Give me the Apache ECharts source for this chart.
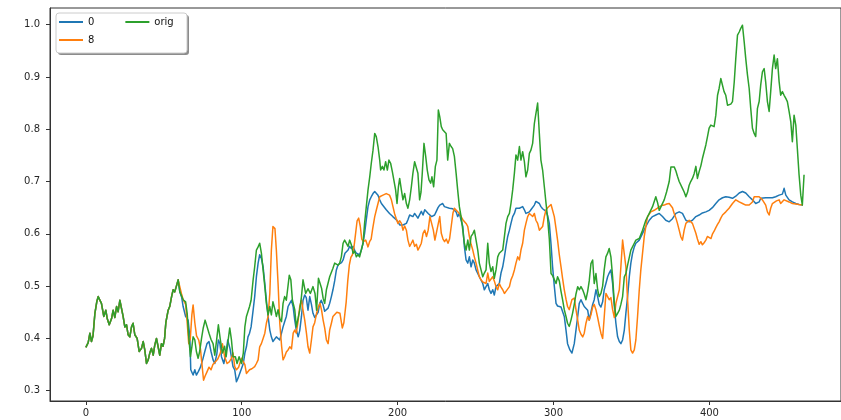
<!DOCTYPE html>
<html>
<head>
<meta charset="utf-8">
<script src="https://cdn.jsdelivr.net/npm/echarts@6/dist/echarts.min.js"></script>
<style>
html, body { margin: 0; padding: 0; background: #fff; }
#chart { width: 841px; height: 420px; }
</style>
</head>
<body>
<div id="chart"></div>
<script>
const xTicks = [0, 100, 200, 300, 400]
const yTicks = [0.3, 0.4, 0.5, 0.6, 0.7, 0.8, 0.9, 1.0]
// both model lines sit exactly on orig up to here
const sharedUntil = 60

const origData = [
  [0, .383], [1.5, .392], [2.6, .41], [3.6, .394], [4.6, .405], [5.8, .448], [7, .47], [7.9, .48], [9, .483], [10, .467],
  [11.5, .442], [12.8, .454], [13.7, .438], [15, .426], [16.5, .438], [17.5, .454], [18.6, .44], [19.7, .461], [20.7, .451], [21.8, .473],
  [22.9, .47], [23.9, .442], [25, .422], [26.1, .426], [27.1, .407], [28.2, .403], [29.3, .422], [30.3, .429], [31.4, .407], [32.9, .40],
  [34.2, .375], [35.7, .381], [36.8, .394], [37.8, .378], [38.9, .352], [40, .359], [41, .372], [42.1, .381], [43.2, .368], [44.2, .387],
  [45.3, .40], [46.3, .385], [47.4, .368], [48.5, .39], [49.5, .385], [50.5, .40], [51.3, .43], [52.8, .454], [53.8, .461], [55, .48],
  [56, .493], [57, .489], [58, .499], [59.2, .512], [60.3, .489], [61.3, .486], [62.4, .474], [64, .47], [65, .448], [66, .403],
  [67.1, .365], [68, .384], [68.8, .403], [69.9, .397], [70.9, .375], [72, .362], [73, .375], [74.2, .40], [75.3, .42], [76.5, .435],
  [77.7, .432], [79, .41], [80.3, .398], [81.6, .39], [82.7, .368], [84, .40], [85, .426], [86.3, .397], [87.6, .372], [89, .385],
  [90, .365], [91.2, .395], [92.3, .42], [93.4, .397], [94.4, .365], [95.9, .365], [97, .352], [98.3, .365], [99.8, .352], [101, .372],
  [102, .422], [103, .442], [104, .442], [105, .461], [106, .473], [107.3, .512], [108.3, .537], [109.4, .569], [110.5, .575], [111.5, .582],
  [112.6, .563], [113.7, .531], [114.8, .499], [115.8, .467], [116.9, .445], [118, .461], [119, .445], [120, .47], [121.3, .455], [122.2, .442],
  [123.3, .455], [124.4, .438], [125.5, .432], [126.5, .467], [127.5, .48], [128.6, .473], [130.5, .521], [131.5, .512], [132.5, .473], [134, .455],
  [135, .422], [136, .419], [137.2, .454], [138.3, .48], [139.3, .512], [141, .486], [142.5, .495], [144, .486], [145.7, .499], [147, .486],
  [148, .454], [149.2, .515], [150.2, .515], [151.2, .496], [152.2, .477], [153.2, .467], [154.3, .493], [155.4, .49], [156.4, .518], [157.5, .52],
  [158.5, .534], [159.6, .544], [160.7, .544], [161.8, .54], [162.8, .544], [163.9, .556], [165, .582], [166, .588], [167.1, .585], [168.2, .576],
  [169.2, .588], [170.3, .579], [171.4, .563], [172.4, .567], [173.5, .556], [174.5, .56], [175.6, .556], [176.7, .569], [177.8, .582], [178.8, .62],
  [179.9, .652], [181, .684], [182.1, .709], [183.1, .735], [184.2, .76], [185.3, .792], [186.3, .786], [187.4, .767], [188.5, .741], [189.1, .722],
  [190.2, .729], [191.2, .722], [192.3, .738], [193.4, .722], [194.4, .741], [195.5, .735], [196.6, .719], [197.6, .716], [198.7, .684], [199.6, .658],
  [200.5, .69], [201.3, .706], [202.4, .684], [203.4, .665], [204.5, .677], [205.6, .658], [206.6, .649], [207.7, .665], [208.8, .69], [209.8, .716],
  [210.9, .738], [212, .735], [213, .716], [214.1, .665], [215, .68], [215.8, .716], [216.9, .773], [218, .748], [219, .722], [220.1, .703],
  [221.2, .697], [222, .709], [223.1, .69], [224.2, .729], [225.2, .741], [226.1, .837], [227, .824], [228, .805], [228.9, .799], [230, .802],
  [231.1, .792], [232.1, .741], [233.2, .773], [234.3, .767], [235.3, .763], [236.4, .748], [237.5, .716], [238.5, .684], [239.6, .652], [240.7, .633],
  [241.8, .607], [242.8, .582], [243.9, .569], [245, .588], [246, .569], [247.1, .595], [248.2, .60], [249.2, .607], [250.3, .588], [251.4, .569],
  [252.4, .544], [253.5, .531], [254.6, .518], [255.6, .525], [256.7, .531], [257.8, .582], [258.8, .544], [259.9, .528], [261, .537], [262, .515],
  [263.1, .531], [264.2, .556], [265.2, .563], [266.3, .56], [267.4, .569], [268.5, .595], [269.5, .62], [270.6, .633], [271.7, .639], [272.7, .658],
  [273.8, .684], [274.9, .716], [275.9, .751], [277, .741], [278.1, .767], [279.1, .741], [280.2, .757], [281.3, .738], [282.3, .709], [283.4, .722],
  [284.5, .754], [285.5, .76], [286.6, .773], [287.7, .811], [288.7, .83], [289.8, .85], [290.9, .792], [291.9, .741], [293, .722], [294.1, .69],
  [295.2, .658], [296.2, .63], [297.3, .59], [298.4, .524], [299.4, .52], [300.5, .518], [301.6, .505], [302.6, .518], [303.7, .51], [304.8, .49],
  [305.8, .474], [306.9, .455], [308, .442], [309, .429], [310.1, .423], [311.2, .435], [312.2, .448], [313.3, .465], [314.4, .485], [315.5, .499],
  [316.5, .493], [317.6, .499], [318.7, .493], [319.7, .485], [320.8, .474], [321.9, .49], [322.9, .51], [324, .543], [325.1, .55], [326.1, .505],
  [327.2, .524], [328.3, .493], [329.3, .48], [330.4, .486], [331.5, .50], [332.5, .531], [333.6, .556], [334.7, .563], [335.7, .572], [336.8, .556],
  [337.9, .518], [339, .467], [340, .442], [341.1, .448], [342.2, .454], [343.2, .465], [344.3, .48], [345.4, .518], [346.4, .524], [347.5, .54],
  [348.6, .555], [349.6, .569], [351.8, .582], [352.8, .588], [353.9, .585], [355, .591], [357.1, .607], [359.2, .626], [361.4, .639], [363.5, .652],
  [365.6, .671], [366.7, .66], [367.8, .645], [369.4, .655], [371, .665], [372.5, .68], [374.2, .70], [375.3, .728], [376.5, .73], [377.4, .728],
  [378.5, .72], [379.5, .71], [380.6, .70], [381.7, .70], [382.7, .687], [383.8, .68], [384.9, .671], [386, .68], [387, .693], [388, .70],
  [389.1, .706], [390.2, .715], [391.3, .729], [392.3, .706], [393.4, .719], [394.5, .73], [395.5, .744], [396.6, .757], [397.7, .77], [398.7, .785],
  [399.8, .802], [400.9, .808], [402, .805], [403, .805], [404.1, .827], [405.2, .865], [406.2, .878], [407.3, .897], [408.4, .9], [409.4, .872],
  [410.5, .865], [411.6, .846], [412.6, .843], [413.7, .848], [414.8, .853], [415.9, .89], [416.9, .935], [418, .98], [419.1, .986], [420.1, .993],
  [421.2, .999], [422.3, .967], [423.3, .935], [424.4, .904], [425.5, .878], [426.5, .84], [427.6, .802], [428.7, .792], [429.7, .786], [430.8, .84],
  [431.9, .853], [432.9, .885], [434, .91], [435.1, .916], [436.1, .89], [437.2, .853], [438.3, .834], [439.3, .872], [440.4, .916], [441.5, .942],
  [442.5, .916], [443.6, .935], [444.7, .891], [445.7, .865], [446.8, .872], [447.9, .865], [449, .859], [450, .853], [451.1, .834], [452.2, .814],
  [453.2, .776], [454.3, .827], [455.4, .808], [456.4, .763], [457.5, .713], [458.6, .674], [459.6, .655], [460.7, .713]
]

const model0Data = [
  [60.3, .489], [61.5, .478], [62.4, .461], [64, .442], [65.6, .435], [66.7, .403], [67.3, .34], [68.8, .33], [69.9, .34], [70.9, .33],
  [72.2, .337], [73.5, .345], [75, .36], [76.3, .375], [77.7, .39], [79, .394], [80.3, .375], [81.6, .359], [82.7, .352], [84, .37],
  [85, .397], [86, .39], [87, .365], [88.5, .352], [90, .375], [91, .397], [92.5, .38], [94.4, .346], [95.5, .34], [96.6, .317],
  [97.6, .324], [98.7, .333], [99.8, .33], [101, .352], [102, .372], [103, .384], [104, .403], [105, .41], [106, .422], [107.3, .454],
  [108.3, .48], [109.4, .518], [110.5, .544], [111.5, .56], [112.6, .553], [113.7, .537], [114.8, .505], [115.8, .473], [116.9, .442], [118, .416],
  [119, .403], [120, .394], [121.1, .392], [122.2, .403], [123.3, .405], [124.4, .397], [125.5, .41], [126.5, .422], [127.5, .432], [128.6, .442],
  [129.7, .461], [130.8, .467], [131.9, .473], [133, .46], [134, .435], [135, .416], [136.2, .403], [137.2, .415], [138.3, .442], [139.3, .473],
  [140.4, .483], [141.4, .478], [142.5, .454], [143.6, .48], [144.7, .465], [145.7, .448], [146.8, .44], [147.9, .442], [149, .45], [150, .467],
  [151, .473], [152.1, .465], [153.2, .452], [154.3, .45], [155.4, .458], [156.4, .467], [157.5, .48], [158.5, .493], [159.6, .51], [160.7, .531],
  [161.8, .541], [162.8, .544], [164, .545], [165, .55], [166.2, .563], [168.2, .569], [169.2, .576], [170.3, .572], [171.4, .576], [172.5, .568],
  [173.5, .563], [174.5, .565], [175.6, .56], [176.7, .569], [177.8, .582], [178.8, .601], [179.9, .627], [181, .652], [182.1, .665], [183.1, .671],
  [184.2, .677], [185.3, .681], [186.3, .68], [187.4, .674], [188.5, .665], [189.6, .658], [190.6, .655], [191.7, .65], [192.7, .646], [193.8, .645],
  [194.8, .639], [195.9, .636], [196.9, .633], [198, .63], [199.1, .627], [200.2, .623], [201.3, .617], [202.4, .62], [203.4, .617], [204.5, .614],
  [205.6, .62], [206.6, .627], [207.7, .636], [208.8, .639], [209.8, .633], [210.9, .639], [212, .636], [213, .63], [214.1, .633], [215.2, .643],
  [216.3, .636], [217.4, .646], [218.5, .643], [219.6, .639], [220.7, .636], [221.8, .633], [222.7, .633], [223.7, .636], [224.8, .643], [225.9, .65],
  [227, .655], [228.9, .658], [230, .652], [231.1, .649], [233.2, .649], [234.3, .65], [235.3, .648], [236.4, .646], [237.5, .642], [238.5, .633],
  [239.6, .639], [240.7, .626], [241.8, .614], [242.8, .576], [243.9, .55], [245, .544], [246, .556], [247.1, .537], [248.2, .55], [249.2, .544],
  [250.3, .531], [251.4, .528], [252.4, .518], [253.5, .515], [254.6, .505], [255.6, .493], [256.7, .499], [257.8, .505], [258.8, .493], [259.9, .486],
  [261, .493], [262, .483], [263.1, .499], [264.2, .497], [265.2, .505], [266.3, .525], [267.4, .537], [268.5, .556], [269.5, .576], [270.6, .595],
  [271.7, .607], [272.7, .62], [273.8, .633], [274.9, .639], [275.9, .649], [277, .646], [278.1, .649], [279.1, .646], [280.2, .652], [281.3, .646],
  [282.3, .639], [283.4, .636], [284.5, .642], [285.5, .646], [286.6, .649], [287.7, .655], [288.7, .662], [289.8, .665], [290.9, .658], [291.9, .652],
  [293, .648], [294.1, .645], [295.2, .643], [296.2, .635], [297.3, .62], [298.4, .58], [299.4, .537], [300.5, .50], [301.6, .467], [302.6, .462],
  [303.7, .461], [304.8, .46], [305.8, .457], [306.9, .442], [308, .416], [309, .39], [310.5, .378], [311.8, .372], [313.3, .39], [314.4, .416],
  [315.5, .442], [316.5, .467], [317.6, .474], [318.7, .467], [319.7, .461], [320.8, .463], [321.9, .454], [322.9, .435], [324, .45], [325.1, .465],
  [326.1, .474], [327.2, .493], [328.3, .48], [329.3, .465], [330.4, .46], [331.5, .47], [332.5, .493], [333.6, .505], [334.7, .518], [335.7, .525],
  [336.8, .531], [337.9, .505], [339, .461], [340, .429], [341.1, .403], [342.2, .394], [343.2, .39], [344.3, .397], [345.4, .416], [346.4, .448],
  [347.5, .48], [348.6, .518], [349.6, .544], [350.7, .563], [351.8, .575], [352.8, .582], [355, .588], [357.1, .601], [359.2, .614], [361.4, .626],
  [363.5, .633], [365.6, .636], [367.8, .639], [369.9, .633], [372, .626], [374.2, .623], [376.3, .629], [378.5, .639], [380.6, .642], [382.7, .639],
  [384.9, .626], [387, .623], [389.1, .626], [391.3, .633], [393.4, .636], [395.5, .64], [397.7, .642], [399.8, .645], [401.9, .65], [404.1, .658],
  [406.2, .665], [408.4, .669], [410.5, .671], [412.6, .67], [414.8, .668], [416.9, .672], [419.1, .678], [421.2, .681], [423.3, .678], [425.5, .671],
  [427.6, .665], [429.7, .658], [430.8, .655], [431.9, .661], [432.9, .668], [436.1, .669], [440.4, .669], [442.5, .671], [444.7, .674], [446.8, .676],
  [447.9, .687], [449, .674], [451.1, .665], [453.2, .661], [455.4, .658], [457.5, .656], [460, .655]
]

const model8Data = [
  [61.3, .486], [62.4, .474], [64, .465], [65, .43], [66, .39], [67, .40], [68, .445], [68.8, .464], [69.9, .43], [71, .405],
  [72.4, .397], [73.5, .38], [74.5, .35], [75.5, .32], [76.5, .328], [77.7, .336], [79, .345], [80.3, .34], [81.5, .35], [83, .355],
  [84.5, .36], [86.3, .372], [87.6, .39], [89, .365], [90.6, .352], [92, .355], [93.4, .362], [94.4, .372], [95.5, .346], [96.6, .34],
  [98, .345], [99.8, .362], [101, .365], [102, .35], [103, .333], [104.1, .33], [105, .34], [106.5, .342], [108.3, .346], [109.4, .352],
  [110.5, .359], [111.5, .384], [112.6, .39], [113.7, .40], [114.8, .41], [115.8, .429], [116.9, .442], [118, .486], [119, .569], [120, .614],
  [121.3, .61], [122.2, .569], [123.3, .505], [124.4, .429], [125.6, .384], [126.5, .359], [127.5, .365], [128.6, .374], [129.7, .378], [130.8, .384],
  [131.9, .38], [133, .41], [134, .416], [135, .41], [136, .43], [137.2, .461], [138.3, .473], [139.3, .454], [140.4, .435], [141.5, .41],
  [142.5, .384], [143.6, .372], [144.7, .397], [145.7, .422], [146.8, .43], [148, .448], [149.2, .461], [150.2, .467], [151.2, .454], [152.2, .435],
  [153.2, .42], [154.3, .397], [155.4, .39], [156.4, .416], [157.5, .429], [158.5, .442], [159.6, .445], [161, .45], [163, .448], [164.5, .42],
  [165.5, .43], [167, .47], [168, .51], [169, .54], [170, .555], [171, .56], [172, .575], [173, .60], [174, .625], [175, .63],
  [176, .615], [177, .59], [178, .585], [179.5, .588], [181, .575], [182, .585], [183, .59], [184, .61], [185.3, .633], [186.3, .645],
  [187.4, .658], [188.5, .671], [190.6, .674], [192.7, .677], [194.8, .674], [196, .665], [197, .652], [198, .639], [199, .63], [200.2, .62],
  [201.3, .625], [202.4, .62], [203.4, .607], [204.5, .615], [205.6, .607], [206.6, .588], [207.7, .576], [208.8, .582], [209.8, .588], [210.9, .576],
  [212, .58], [213, .569], [214.1, .575], [215.2, .582], [216.3, .601], [217.4, .607], [218.5, .595], [219.6, .607], [220.7, .633], [221.8, .62],
  [222.9, .607], [223.9, .588], [225, .588], [226.1, .62], [227, .633], [228, .601], [229.1, .59], [230.1, .585], [231.2, .59], [232.3, .582],
  [233.3, .59], [234.4, .615], [235.5, .64], [236.4, .649], [237.5, .646], [239.6, .639], [240.7, .633], [241.8, .627], [243.9, .62], [245, .614],
  [246, .595], [247.1, .58], [248.2, .569], [249.2, .556], [250.3, .544], [251.4, .53], [252.4, .518], [253.5, .512], [254.6, .508], [255.6, .51],
  [256.7, .505], [257.8, .525], [258.8, .509], [259.9, .512], [261, .518], [262, .51], [263.1, .499], [264.2, .493], [265.2, .505], [266.3, .498],
  [267.4, .493], [268.5, .486], [269.5, .49], [270.6, .49], [271.7, .499], [272.7, .512], [273.8, .52], [274.9, .531], [275.9, .544], [277, .556],
  [278.1, .55], [279.1, .569], [280.2, .582], [281.3, .607], [282.3, .62], [283.4, .633], [284.5, .639], [285.5, .636], [286.6, .633], [287.7, .639],
  [288.7, .626], [289.8, .62], [290.9, .607], [291.9, .604], [293, .614], [294.1, .633], [295.2, .646], [296.2, .65], [297.3, .652], [298.4, .656],
  [299.4, .658], [300.5, .633], [301.6, .61], [302.6, .588], [303.7, .56], [304.8, .537], [305.8, .515], [306.9, .493], [308, .475], [309, .461],
  [310.1, .455], [311, .465], [311.8, .474], [313.3, .477], [314.4, .455], [315.5, .435], [316.5, .416], [317.6, .408], [318.7, .403], [319.7, .41],
  [320.8, .429], [321.9, .442], [322.9, .435], [324, .445], [325.1, .46], [326.1, .465], [327.2, .455], [328.3, .44], [329.3, .425], [330.4, .41],
  [331.5, .40], [332.5, .44], [333.6, .486], [334.7, .48], [335.7, .474], [336.8, .478], [337.9, .455], [339, .44], [340, .467], [341.1, .47],
  [342.2, .493], [343.2, .537], [344.3, .588], [345.4, .588], [346.4, .537], [347.5, .474], [348.6, .416], [349.6, .378], [350.7, .372], [351.8, .378],
  [352.8, .397], [353.9, .442], [355, .493], [356, .531], [357.1, .563], [358.2, .595], [359.2, .614], [360.3, .633], [362.4, .642], [364.6, .645],
  [366.2, .648], [367.8, .652], [369.4, .654], [371, .655], [372.6, .657], [374.2, .658], [375.3, .658], [376.3, .65], [377.4, .639], [378.5, .63],
  [379.5, .62], [380.6, .607], [381.7, .594], [382.7, .588], [383.8, .607], [384.9, .62], [387, .626], [389.1, .62], [391.3, .601], [392.3, .59],
  [393.4, .58], [394.5, .585], [395.5, .579], [396.6, .583], [397.7, .588], [398.7, .595], [399.8, .598], [401, .591], [402, .60], [403, .605],
  [404.1, .612], [405.2, .618], [406.2, .623], [407.3, .63], [408.4, .636], [410.5, .642], [412.6, .649], [414.8, .658], [416.9, .665], [419.1, .661],
  [421.2, .658], [423.3, .655], [425.5, .655], [427.6, .661], [428.7, .671], [429.7, .674], [431.9, .671], [434, .665], [436.1, .655], [437.2, .642],
  [438.3, .636], [439.3, .649], [440.4, .658], [441.5, .661], [443, .663], [444.7, .665], [445.7, .658], [446.8, .66], [447.9, .665], [449, .664],
  [451.1, .661], [453.2, .658], [455.4, .657], [457.5, .656], [460, .655]
]

let head = origData.filter(p => p[0] <= sharedUntil)
let line0 = head.concat(model0Data)
let line8 = head.concat(model8Data)

let font = 'DejaVu Sans'
let axisColor = '#333'
let textColor = '#262626'

let legendText = { fontFamily: font, fontSize: 10, color: '#111' }

function lineSeries(name, data, color) {
  return {
    name: name,
    type: 'line',
    data: data,
    showSymbol: false,
    symbol: 'none',
    color: color,
    lineStyle: { color: color, width: 1.5, join: 'round' },
    animation: false
  }
}

let option = {
  animation: false,
  grid: {
    left: 50,
    top: 8,
    width: 792,
    height: 393,
    show: true,
    borderColor: axisColor,
    borderWidth: 1
  },
  xAxis: {
    type: 'value',
    min: -23,
    max: 484.4,
    splitLine: { show: false },
    axisLine: { show: true, onZero: false, lineStyle: { color: axisColor, width: 1 } },
    axisTick: { show: true, length: 4, customValues: xTicks, lineStyle: { color: axisColor } },
    axisLabel: { customValues: xTicks, margin: 7, fontFamily: font, fontSize: 10, color: textColor }
  },
  yAxis: {
    type: 'value',
    min: 0.2803,
    max: 1.0319,
    splitLine: { show: false },
    axisLine: { show: true, onZero: false, lineStyle: { color: axisColor, width: 1 } },
    axisTick: { show: true, length: 4, customValues: yTicks, lineStyle: { color: axisColor } },
    axisLabel: {
      customValues: yTicks,
      margin: 10,
      fontFamily: font,
      fontSize: 10,
      color: textColor,
      formatter: v => v.toFixed(1)
    }
  },
  legend: [
    {
      data: ['0', 'orig'],
      left: 59,
      top: 17,
      padding: 0,
      itemGap: 31,
      itemWidth: 24,
      itemHeight: 2,
      icon: 'rect',
      selectedMode: false,
      z: 100,
      textStyle: legendText
    },
    {
      data: ['8'],
      left: 59,
      top: 35,
      padding: 0,
      itemWidth: 24,
      itemHeight: 2,
      icon: 'rect',
      selectedMode: false,
      z: 100,
      textStyle: legendText
    }
  ],
  // legend frame with its drop shadow
  graphic: [
    {
      type: 'rect',
      z: 50,
      shape: { x: 58, y: 15, width: 131, height: 40, r: 3 },
      style: { fill: 'rgba(0,0,0,0.45)' }
    },
    {
      type: 'rect',
      z: 51,
      shape: { x: 56, y: 13, width: 131, height: 40, r: 3 },
      style: { fill: '#ffffff', stroke: '#cccccc', lineWidth: 1 }
    }
  ],
  series: [
    lineSeries('0', line0, '#1f77b4'),
    lineSeries('8', line8, '#ff7f0e'),
    lineSeries('orig', origData, '#2ca02c')
  ]
}

let myChart = echarts.init(document.getElementById('chart'), null, { renderer: 'canvas' })
myChart.setOption(option)
</script>
</body>
</html>
